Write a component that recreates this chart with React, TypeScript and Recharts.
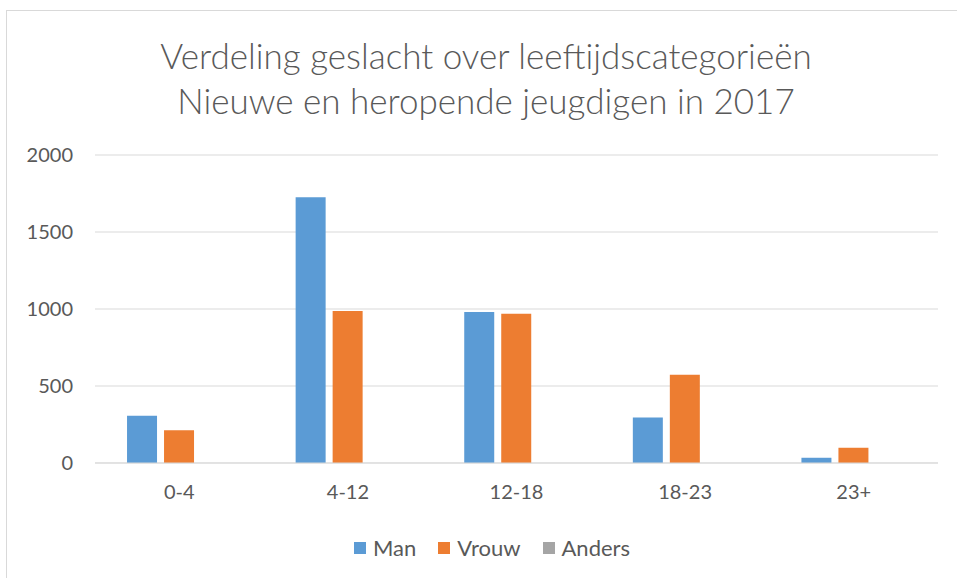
import React from 'react';
import { BarChart, Bar, XAxis, YAxis, CartesianGrid, Legend } from 'recharts';

const categories = ['0-4', '4-12', '12-18', '18-23', '23+'];
const man = [307, 1725, 980, 296, 34];
const vrouw = [212, 987, 969, 573, 99];
const anders = [0, 0, 0, 0, 0];
const yTicks = [0, 500, 1000, 1500, 2000];

const series = [
  { key: 'man', name: 'Man', color: '#5b9bd5' },
  { key: 'vrouw', name: 'Vrouw', color: '#ed7d31' },
  { key: 'anders', name: 'Anders', color: '#a5a5a5' },
];

const data = categories.map((c, i) => ({
  cat: c,
  man: man[i],
  vrouw: vrouw[i],
  anders: anders[i],
}));

const FONT = 'Lato, "Open Sans", sans-serif';
const TEXT = '#595959';

function LegendContent() {
  return (
    <div style={{ display: 'flex', justifyContent: 'center', gap: 22, fontFamily: FONT, fontSize: 22, color: TEXT, marginLeft: 46 }}>
      {series.map((s) => (
        <div key={s.key} style={{ display: 'flex', alignItems: 'center', gap: 7 }}>
          <span style={{ width: 12, height: 12, background: s.color, display: 'inline-block' }} />
          <span>{s.name}</span>
        </div>
      ))}
    </div>
  );
}

export default function App() {
  return (
    <div style={{ position: 'absolute', left: 0, top: 0, width: 957, height: 578, background: '#fff', overflow: 'hidden' }}>
      <div
        style={{
          position: 'absolute',
          left: 6,
          top: 10,
          width: 1000,
          height: 600,
          border: '1px solid #d9d9d9',
          boxSizing: 'border-box',
        }}
      />
      <div
        style={{
          position: 'absolute',
          left: 0,
          width: 972,
          top: 33,
          textAlign: 'center',
          fontFamily: FONT,
          fontSize: 35,
          fontWeight: 300,
          lineHeight: '45px',
          color: TEXT,
        }}
      >
        <div>Verdeling geslacht over leeftijdscategorieën</div>
        <div>Nieuwe en heropende jeugdigen in 2017</div>
      </div>
      <div style={{ position: 'absolute', left: 0, top: 0 }}>
        <BarChart
          width={957}
          height={578}
          data={data}
          margin={{ top: 155, right: 19, bottom: 9, left: 0 }}
          barCategoryGap="19%"
          barGap={7}
        >
          <CartesianGrid vertical={false} stroke="#d9d9d9" strokeWidth={1} />
          <XAxis
            dataKey="cat"
            axisLine={{ stroke: '#d9d9d9' }}
            tickLine={false}
            tickMargin={16}
            height={71}
            tick={{ fill: TEXT, fontSize: 20, fontFamily: FONT }}
          />
          <YAxis
            width={95}
            domain={[0, 2000]}
            ticks={yTicks}
            axisLine={false}
            tickLine={false}
            tickMargin={16}
            tick={{ fill: TEXT, fontSize: 20, fontFamily: FONT }}
          />
          {series.map((s) => (
            <Bar key={s.key} dataKey={s.key} name={s.name} fill={s.color} isAnimationActive={false} />
          ))}
          <Legend verticalAlign="bottom" height={35} content={<LegendContent />} />
        </BarChart>
      </div>
    </div>
  );
}
